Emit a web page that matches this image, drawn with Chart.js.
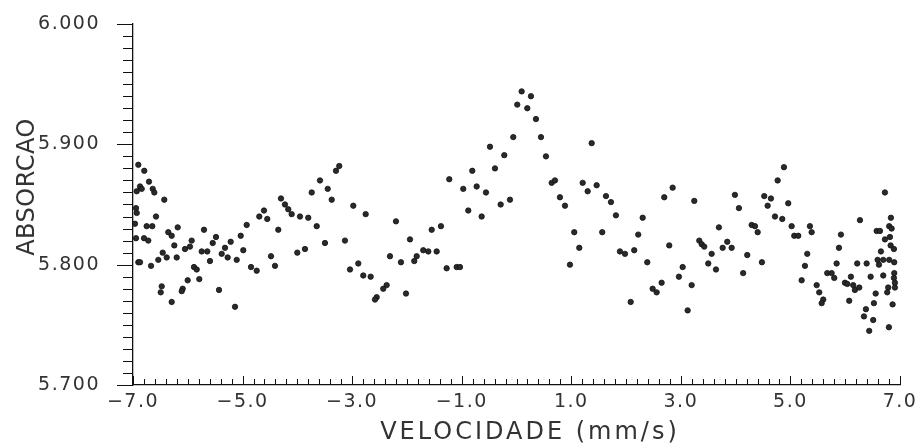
<!DOCTYPE html>
<html>
<head>
<meta charset="utf-8">
<title>Absorcao x Velocidade</title>
<script src="https://cdn.jsdelivr.net/npm/chart.js@4/dist/chart.umd.min.js"></script>
<style>
  html, body { margin: 0; padding: 0; background: #fff; }
  #wrap { width: 918px; height: 447px; position: relative; }
</style>
</head>
<body>
<div id="wrap"><canvas id="c"></canvas></div>
<script>
// Mossbauer spectrum: velocity (mm/s) vs. absorption
const velocidade = [
  -6.903,-6.794,-6.708,-6.872,-6.841,-6.932,-6.640,-6.611,-6.429,-6.945,-6.932,-6.580,-6.964,-6.750,-6.648,
  -6.945,-6.799,-6.721,-6.903,-6.872,-6.671,-6.538,-6.458,-6.385,-6.356,-6.294,-6.184,-6.246,-6.202,-6.476,
  -6.494,-6.294,-6.051,-5.960,-5.929,-5.887,-5.837,-5.790,-6.002,-6.093,-6.111,-5.704,-5.746,-5.644,-5.595,
  -5.545,-5.485,-5.430,-5.381,-5.321,-5.272,-5.217,-5.138,-5.107,-5.034,-4.987,-4.925,-4.846,-4.742,-4.695,
  -3.235,-3.295,-3.587,-3.446,-3.738,-3.373,-4.299,-4.609,-4.549,-4.226,-4.166,-4.104,-3.952,-3.801,-3.647,
  -4.348,-2.979,-2.753,-3.131,-3.496,-3.861,-4.001,-4.481,-4.408,-2.888,-3.039,-2.797,-2.662,-2.309,-2.370,
  -2.432,-2.552,-2.583,
  -0.059,-0.484,-0.223,-0.807,-0.393,-1.227,-0.972,-0.727,-0.557,-0.119,-0.289,-0.880,-0.636,-2.200,-1.548,
  -1.379,-1.944,-1.702,-1.610,-1.457,-2.109,-1.822,-1.866,-1.275,-1.092,-1.032,-2.017,
  0.094,0.264,0.014,0.197,0.355,0.447,1.372,0.538,0.642,0.702,1.208,1.299,1.463,0.793,0.885,
  1.633,1.724,1.815,2.303,1.054,1.565,2.222,1.146,1.888,1.980,2.149,0.976,2.387,2.084,
  2.850,2.697,3.245,3.987,4.060,4.522,4.644,4.584,4.718,4.767,3.695,4.292,4.353,4.402,2.788,
  3.336,3.380,3.427,3.562,3.847,3.763,3.927,4.212,4.480,3.500,3.641,3.033,2.965,3.197,2.649,
  2.485,2.558,4.137,3.124,
  4.882,4.960,4.851,5.022,5.070,5.143,5.356,5.387,6.725,6.269,5.922,5.886,5.307,5.265,5.205,
  5.479,5.526,5.599,5.570,5.843,5.672,5.752,5.800,6.104,5.995,6.037,6.146,6.177,6.256,6.073,
  6.219,6.391,6.464,6.574,6.634,6.725,6.834,6.803,6.847,6.816,6.652,6.829,6.889,6.591,6.616,
  6.694,6.803,6.895,6.694,6.895,6.889,6.907,6.907,6.785,6.767,6.556,6.524,6.865,6.378,6.342,
  6.511,6.438,6.798
];
const absorcao = [
  5.883,5.878,5.869,5.865,5.863,5.861,5.863,5.860,5.854,5.847,5.843,5.840,5.834,5.832,5.832,
  5.822,5.822,5.820,5.802,5.802,5.799,5.804,5.810,5.806,5.827,5.824,5.831,5.816,5.806,5.782,
  5.777,5.769,5.813,5.815,5.820,5.798,5.796,5.788,5.787,5.780,5.778,5.829,5.811,5.811,5.803,
  5.818,5.823,5.779,5.809,5.814,5.806,5.819,5.765,5.804,5.824,5.812,5.833,5.798,5.795,5.840,
  5.882,5.878,5.870,5.863,5.860,5.854,5.855,5.845,5.838,5.850,5.846,5.842,5.840,5.839,5.832,
  5.829,5.849,5.842,5.820,5.818,5.813,5.810,5.807,5.799,5.801,5.796,5.791,5.790,5.807,5.783,
  5.780,5.773,5.771,
  5.906,5.898,5.891,5.878,5.880,5.871,5.863,5.865,5.860,5.854,5.850,5.845,5.840,5.836,5.829,
  5.832,5.821,5.812,5.811,5.811,5.802,5.807,5.803,5.797,5.798,5.798,5.776,
  5.944,5.940,5.933,5.930,5.921,5.906,5.901,5.890,5.868,5.870,5.868,5.861,5.866,5.856,5.849,
  5.857,5.852,5.841,5.839,5.827,5.827,5.825,5.814,5.811,5.809,5.812,5.800,5.802,5.769,
  5.864,5.856,5.853,5.858,5.847,5.857,5.855,5.849,5.840,5.870,5.831,5.833,5.832,5.827,5.816,
  5.820,5.817,5.815,5.809,5.819,5.814,5.814,5.808,5.802,5.801,5.796,5.798,5.790,5.783,5.785,
  5.780,5.777,5.793,5.762,
  5.881,5.851,5.838,5.832,5.824,5.824,5.832,5.827,5.860,5.837,5.825,5.814,5.809,5.799,5.787,
  5.783,5.777,5.771,5.768,5.801,5.793,5.793,5.789,5.790,5.785,5.784,5.783,5.779,5.781,5.770,
  5.801,5.801,5.790,5.828,5.828,5.821,5.839,5.832,5.830,5.823,5.811,5.816,5.813,5.804,5.800,
  5.804,5.804,5.802,5.791,5.793,5.789,5.785,5.781,5.781,5.777,5.776,5.768,5.767,5.763,5.757,
  5.754,5.745,5.748
];

// Axis ticks and titles
const xTickValues = [-7, -5, -3, -1, 1, 3, 5, 7];
const yTickValues = [5.7, 5.8, 5.9, 6.0];
const xMinorStep = 0.2;   // minor tick spacing on velocity axis
const yMinorStep = 0.01;  // minor tick spacing on absorption axis
const xTitle = 'VELOCIDADE (mm/s)';
const yTitle = 'ABSORCAO';

const points = velocidade.map((v, i) => ({ x: v, y: absorcao[i] }));

const textColor = '#333';
const tickFont = { family: "'DejaVu Sans', sans-serif", size: 19 };

// Tick marks (minor/major) and axis titles
const axisDecor = {
  id: 'axisDecor',
  beforeDraw(chart) {
    chart.ctx.letterSpacing = '1.5px';
  },
  afterDraw(chart) {
    const { ctx, scales: { x, y } } = chart;
    ctx.letterSpacing = '0px';
    ctx.save();
    ctx.strokeStyle = '#111';
    ctx.lineWidth = 1;
    ctx.beginPath();
    const nY = Math.round((y.max - y.min) / yMinorStep);
    for (let i = 0; i <= nY; i++) {
      const py = Math.round(y.getPixelForValue(y.min + i * yMinorStep)) + 0.5;
      const len = (i % 10 === 0) ? 16 : 10;
      ctx.moveTo(x.left - len, py);
      ctx.lineTo(x.left, py);
    }
    const nX = Math.round((x.max - x.min) / xMinorStep);
    const base = Math.round(y.bottom);
    for (let i = 0; i <= nX; i++) {
      const px = Math.round(x.getPixelForValue(x.min + i * xMinorStep)) + 0.5;
      const len = (i % 10 === 0) ? 9 : 6;
      ctx.moveTo(px, base);
      ctx.lineTo(px, base - len);
    }
    ctx.stroke();

    ctx.fillStyle = textColor;
    ctx.font = "24px 'DejaVu Sans', sans-serif";
    ctx.textAlign = 'center';
    ctx.textBaseline = 'middle';
    ctx.letterSpacing = '3px';
    ctx.fillText(xTitle, 530, 433);
    ctx.letterSpacing = '0.5px';
    ctx.translate(28, 187);
    ctx.rotate(-Math.PI / 2);
    ctx.fillText(yTitle, 0, 0);
    ctx.restore();
  }
};

new Chart(document.getElementById('c'), {
  type: 'scatter',
  data: {
    datasets: [{
      data: points,
      pointRadius: 2.7,
      pointBackgroundColor: '#2a2a2a',
      pointBorderColor: '#111',
      pointBorderWidth: 0.8
    }]
  },
  options: {
    responsive: true,
    maintainAspectRatio: false,
    animation: false,
    layout: { padding: { top: 24, right: 18, left: 0, bottom: 0 } },
    plugins: { legend: { display: false }, tooltip: { enabled: false } },
    scales: {
      x: {
        type: 'linear',
        min: -7, max: 7,
        afterBuildTicks(scale) { scale.ticks = xTickValues.map(v => ({ value: v })); },
        afterFit(scale) {
          scale.height = 62;
          scale.paddingLeft = 0;
          scale.paddingRight = 0;
        },
        grid: { display: false, drawTicks: false },
        border: { display: true, color: '#111', width: 1.3 },
        ticks: {
          padding: 6,
          color: textColor,
          font: tickFont,
          maxRotation: 0,
          autoSkip: false,
          callback: v => (v < 0 ? '\u2212' + Math.abs(v).toFixed(1) : v.toFixed(1))
        }
      },
      y: {
        type: 'linear',
        min: 5.7, max: 6.0,
        afterBuildTicks(scale) { scale.ticks = yTickValues.map(v => ({ value: v })); },
        afterFit(scale) {
          scale.width = 133;
          scale.paddingTop = 0;
          scale.paddingBottom = 0;
        },
        grid: { display: false, drawTicks: false },
        border: { display: true, color: '#111', width: 1.3 },
        ticks: {
          padding: 33,
          color: textColor,
          font: tickFont,
          autoSkip: false,
          callback: v => v.toFixed(3)
        }
      }
    }
  },
  plugins: [axisDecor]
});
</script>
</body>
</html>
